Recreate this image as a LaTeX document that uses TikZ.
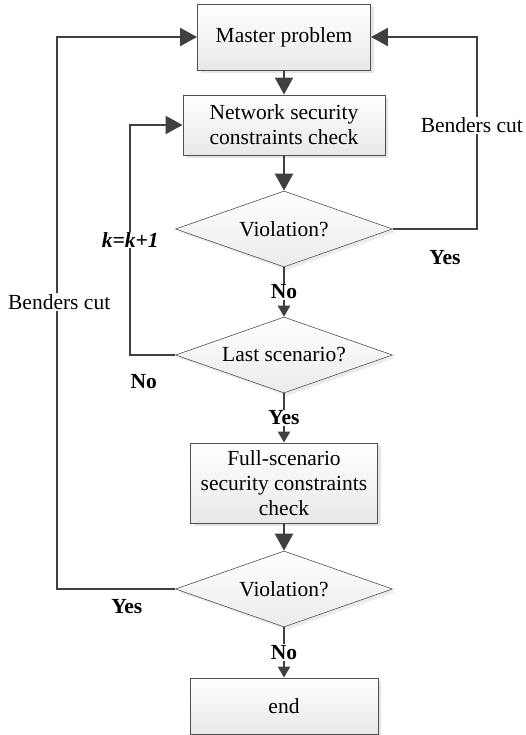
\documentclass[tikz,border=0pt]{standalone}
\usepackage{fontspec}
\setmainfont{Liberation Serif}
\usetikzlibrary{shapes.geometric, arrows.meta, shadows, shadings, positioning}
\definecolor{linegray}{RGB}{64,64,64}
\definecolor{edgegray}{RGB}{80,80,80}

\tikzset{
	process/.style={rectangle, draw=edgegray, line width=0.9pt, top color=white, bottom color=black!9,
		drop shadow={opacity=1, fill=black!10, shadow xshift=3pt, shadow yshift=-3pt},
		align=center, inner sep=2pt, font=\fontsize{21.5}{25}\selectfont},
	decision/.style={diamond, draw=edgegray, line width=0.6pt, top color=white, bottom color=black!8,
		drop shadow={opacity=1, fill=black!8, shadow xshift=3pt, shadow yshift=-3pt},
		aspect=2.9, inner sep=0pt, minimum width=217pt, minimum height=76pt,
		font=\fontsize{21.5}{25}\selectfont},
	flow/.style={draw=linegray, line width=2.3pt, -{Triangle[length=17pt,width=18pt]}},
	flowsmall/.style={draw=linegray, line width=2.3pt, -{Triangle[length=11pt,width=12pt]}},
	tag/.style={font=\fontsize{21.5}{25}\selectfont\bfseries, inner sep=1pt},
	cutlabel/.style={font=\fontsize{21.5}{25}\selectfont, fill=white, inner sep=1pt},
}

\begin{document}
\begin{tikzpicture}[x=1pt,y=-1pt]
	\useasboundingbox (0,0) rectangle (525,735);

	% main column
	\node[process, minimum width=173pt, minimum height=66pt] (master) at (284,37) {Master problem};
	\node[process, minimum width=202pt, minimum height=60pt] (network) at (284,125) {Network security\\constraints check};
	\node[decision] (violA) at (284,229) {Violation?};
	\node[decision] (last) at (284,355) {Last scenario?};
	\node[process, minimum width=187pt, minimum height=80pt] (full) at (284,483) {Full-scenario\\security constraints\\check};
	\node[decision] (violB) at (284,589) {Violation?};
	\node[process, minimum width=188pt, minimum height=56pt] (end) at (284,706) {end};

	% straight links
	\draw[flow] (master) -- (network);
	\draw[flow] (network) -- (violA);
	\draw[flowsmall] (violA) -- node[tag, fill=white]{No} (last);
	\draw[flowsmall] (last) -- node[tag, fill=white]{Yes} (full);
	\draw[flow] (full) -- (violB);
	\draw[flowsmall] (violB) -- node[tag, fill=white]{No} (end);

	% feedback loops
	\draw[flow] (violA.east) -- node[tag, pos=0.62, below=19pt]{Yes} ++(84,0)
		|- node[cutlabel, pos=0.27, xshift=-5pt]{Benders cut} (master.east);
	\draw[flow] (last.west) -- node[tag, pos=0.7, below=17pt]{No} ++(-45,0)
		|- node[tag, fill=white, pos=0.25]{\itshape k=k+1} (network.west);
	\draw[flow] (violB.west) -- node[tag, pos=0.41, below=8pt]{Yes} ++(-118,0)
		|- node[cutlabel, pos=0.26, xshift=2pt]{Benders cut} (master.west);
\end{tikzpicture}
\end{document}
